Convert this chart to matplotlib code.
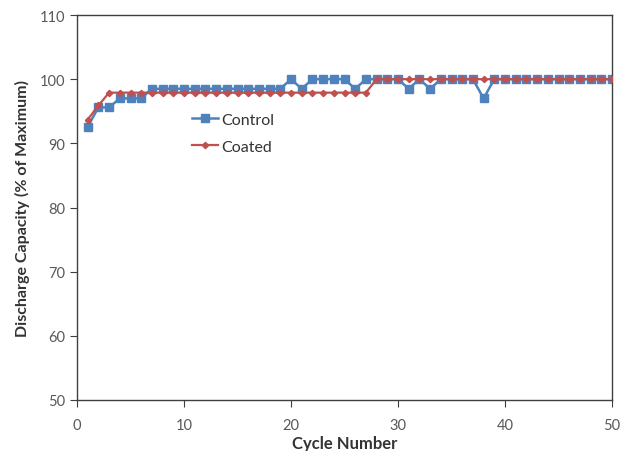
import matplotlib
matplotlib.use("Agg")
import matplotlib.pyplot as plt

cycles = list(range(1, 51))
control = [92.6, 95.6, 95.6, 97.0, 97.0, 97.0] + [98.5] * 13 + \
    [100, 98.5, 100, 100, 100, 100, 98.5, 100, 100, 100, 100, 98.5, 100, 98.5,
     100, 100, 100, 100, 97.0] + [100] * 12
coated = [93.7, 95.9] + [97.9] * 25 + [100] * 23

plt.rcParams['font.family'] = ['Lato', 'DejaVu Sans']

fig = plt.figure(figsize=(6.23, 4.52), dpi=100)
ax = fig.add_axes([77/623, 1-401/452, (612-77)/623, (401-16)/452])

ax.plot(cycles, control, color='#4F81BD', marker='s', markersize=5.5, lw=1.8, label='Control', zorder=2)
ax.plot(cycles, coated, color='#C0504D', marker='D', markersize=3.2, lw=1.6, label='Coated', zorder=3)

ax.set_xlim(0, 50)
ax.set_ylim(50, 110)
ax.set_xticks(range(0, 51, 10))
ax.set_yticks(range(50, 111, 10))
ax.tick_params(axis='both', labelsize=10.5, labelcolor='#595959', color='#404040', length=5, direction='out')
ax.tick_params(axis='x', pad=8)
for s in ax.spines.values():
    s.set_color('#404040')
    s.set_linewidth(1.0)

ax.set_xlabel('Cycle Number', fontsize=12, fontweight='bold', color='#333333', labelpad=2)
ax.set_ylabel('Discharge Capacity (% of Maximum)', fontsize=11.5, fontweight='bold', color='#333333', labelpad=7)

leg = ax.legend(loc='upper left', bbox_to_anchor=(178/623, 1-99/452), bbox_transform=fig.transFigure,
                frameon=False, fontsize=11.5, handlelength=1.6, handletextpad=0.2, labelspacing=0.8,
                labelcolor='#333333')

fig.savefig('out.png', dpi=100)
